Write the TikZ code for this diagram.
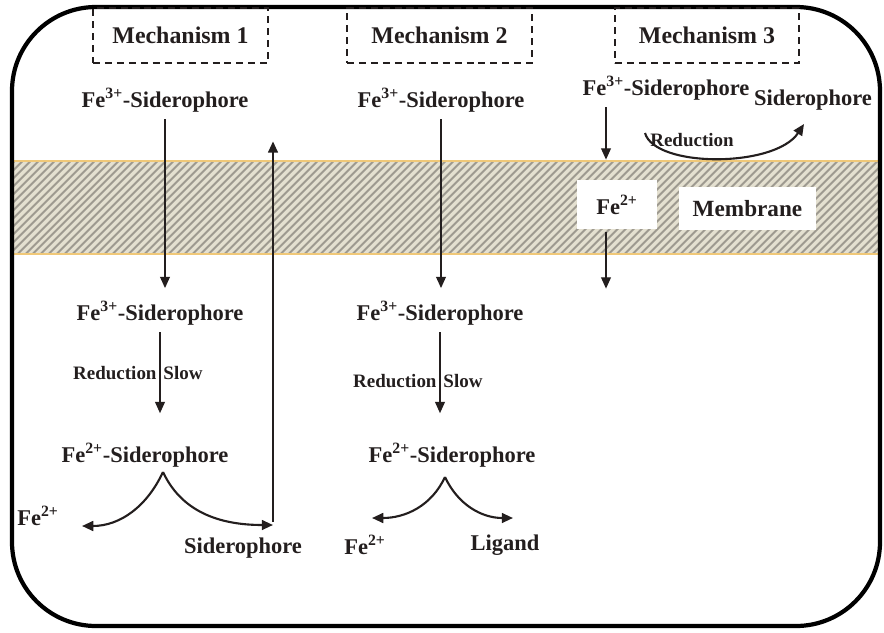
\documentclass[tikz,border=0pt]{standalone}
\usepackage{fontspec}
\setmainfont{Liberation Serif}
\usetikzlibrary{arrows.meta,patterns.meta}

\definecolor{ink}{RGB}{35,30,30}
\definecolor{bandbase}{RGB}{228,224,208}
\definecolor{bandline}{RGB}{158,154,144}
\definecolor{bandedge}{RGB}{240,200,120}

\begin{document}
\begin{tikzpicture}[
  x=0.025cm, y=-0.025cm,
  font=\fontsize{16}{18}\selectfont\bfseries, text=ink,
  species/.style={inner sep=3pt},
  steplabel/.style={font=\fontsize{13.5}{15}\selectfont\bfseries, inner sep=2pt},
  mechbox/.style={draw=ink, dash pattern=on 5pt off 3.5pt, line width=1.3pt,
    minimum height=1.375cm, font=\fontsize{17}{19}\selectfont\bfseries},
  whitebox/.style={fill=white, inner sep=0pt},
  flow/.style={draw=ink, line width=0.9pt, -{Triangle[length=8pt,width=7pt]},
    shorten >=1pt, shorten <=2pt},
  split/.style={draw=ink, line width=1.5pt, -{Triangle[length=8pt,width=7pt]}},
  frame/.style={draw=black, line width=3pt, rounded corners=2.1cm}
]
\useasboundingbox (0,0) rectangle (884,633);

% membrane band, then the cell outline on top
\fill[bandbase] (12,161) rectangle (880,254);
\fill[pattern={Lines[angle=45,distance=4pt,line width=1.5pt]}, pattern color=bandline]
  (12,161) rectangle (880,254);
\draw[bandedge, line width=0.8pt] (12,161) -- (880,161) (12,254) -- (880,254);
\draw[frame] (12,7) rectangle (880,626);

\node[mechbox, minimum width=4.375cm] (mech1) at (180.5,35.5) {Mechanism 1};
\node[mechbox, minimum width=4.625cm] (mech2) at (439.5,35.5) {Mechanism 2};
\node[mechbox, minimum width=4.6cm] (mech3) at (707,35.5) {Mechanism 3};

% mechanism 1
\node[species] (fe3a) at (165,100) {Fe\textsuperscript{3+}-Siderophore};
\node[species] (fe3b) at (160,313) {Fe\textsuperscript{3+}-Siderophore};
\node[species] (fe2b) at (145,455) {Fe\textsuperscript{2+}-Siderophore};
\node[species] (ionA) at (38,516) {Fe\textsuperscript{2+}};
\node[species] (sidA) at (243,548) {Siderophore};
\coordinate (splitA) at (163,472);
\coordinate (tipA) at (82,526);
\coordinate (turnA) at (273,525);
\coordinate (backA) at (273,140);
\draw[flow, shorten >=6pt] (fe3a.south) -- (fe3a.south |- fe3b.north);
\draw[flow, shorten >=18pt] (fe3b.south) -- node[steplabel, left, pos=.4] {Reduction}
  node[steplabel, right, pos=.4] {Slow} (fe3b.south |- fe2b.north);
\draw[split] (splitA) to[out=-115, in=0] (tipA);
\draw[split] (splitA) to[out=-65, in=180] (turnA);
\draw[flow, line width=1.3pt] (turnA) -- (backA);

% mechanism 2
\node[species] (fe3c) at (441,100) {Fe\textsuperscript{3+}-Siderophore};
\node[species] (fe3d) at (440,313) {Fe\textsuperscript{3+}-Siderophore};
\node[species] (fe2d) at (452,455) {Fe\textsuperscript{2+}-Siderophore};
\node[species] (ionB) at (365,545) {Fe\textsuperscript{2+}};
\node[species] (ligB) at (505,545) {Ligand};
\coordinate (splitB) at (445,477);
\coordinate (tipB) at (372,518);
\coordinate (tipC) at (513,518);
\draw[flow, shorten >=6pt] (fe3c.south) -- (fe3c.south |- fe3d.north);
\draw[flow, shorten >=18pt] (fe3d.south) -- node[steplabel, left, pos=.47] {Reduction}
  node[steplabel, right, pos=.47] {Slow} (fe3d.south |- fe2d.north);
\draw[split] (splitB) to[out=-115, in=0] (tipB);
\draw[split] (splitB) to[out=-65, in=180] (tipC);

% mechanism 3
\node[species] (fe3e) at (666,88) {Fe\textsuperscript{3+}-Siderophore};
\node[species] (sidC) at (813,100) {Siderophore};
\node[steplabel] (redC) at (692,140) {Reduction};
\node[whitebox, minimum width=2cm, minimum height=1.225cm] (fe2m) at (617,204.5)
  {Fe\textsuperscript{2+}};
\node[whitebox, minimum width=3.425cm, minimum height=1.075cm,
  font=\fontsize{16.5}{18}\selectfont\bfseries] (memb) at (747.5,208.5) {Membrane};
\coordinate (inC) at (606,161);
\coordinate (outC) at (606,290);
\coordinate (redfrom) at (645,133);
\coordinate (redto) at (804,124);
\draw[flow] (fe3e.south -| inC) -- (inC);
\draw[flow] (fe2m.south -| outC) -- (outC);
\draw[split] (redfrom) .. controls (655,168) and (775,168) .. (redto);
\end{tikzpicture}
\end{document}
